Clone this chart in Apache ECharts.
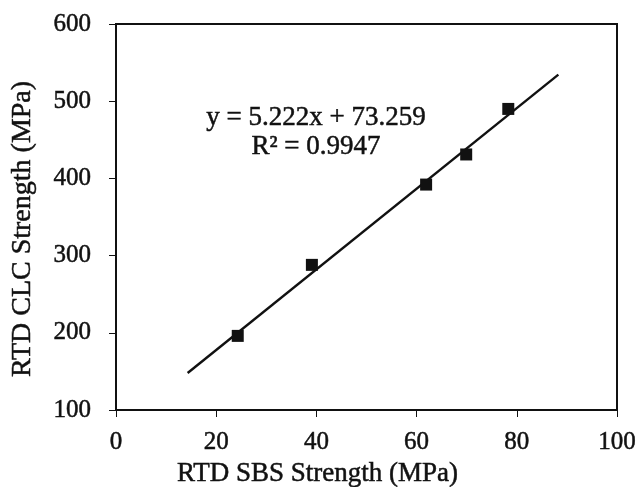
<!DOCTYPE html>
<html>
<head>
<meta charset="utf-8">
<script src="https://cdn.jsdelivr.net/npm/echarts@6/dist/echarts.min.js"></script>
<style>
  html, body { margin: 0; padding: 0; background: #fff; }
  #chart { width: 638px; height: 487px; }
</style>
</head>
<body>
<div id="chart"></div>
<script>
// Measured strengths: short-beam shear (x) vs curved-beam (y), MPa
const sbsStrength = [24.3, 39.1, 61.9, 69.9, 78.3];
const clcStrength = [196, 288, 392, 431, 490];

// Linear fit reported on the chart
const fitSlope = 5.222;
const fitIntercept = 73.259;
const fitR2 = 0.9947;
const fitRange = [14.3, 88.3];

const xTicks = [0, 20, 40, 60, 80, 100];
const yTicks = [100, 200, 300, 400, 500, 600];

const serif = 'Liberation Serif, Times New Roman, serif';
const ink = '#111111';
// a hairline outline in the text colour gives the glyphs a heavier print look
const heavy = { textBorderColor: ink, textBorderWidth: 0.5 };

const points = sbsStrength.map((x, i) => [x, clcStrength[i]]);
const fitLine = fitRange.map(x => [x, fitSlope * x + fitIntercept]);

const chart = echarts.init(document.getElementById('chart'), null, { renderer: 'canvas' });

chart.setOption({
  animation: false,
  backgroundColor: '#fff',
  grid: {
    left: 116, right: 21, top: 24, bottom: 77,
    outerBoundsMode: 'none', containLabel: false,
    show: true, borderColor: ink, borderWidth: 2, backgroundColor: 'transparent'
  },
  xAxis: {
    type: 'value',
    min: xTicks[0], max: xTicks[xTicks.length - 1], interval: 20,
    name: 'RTD SBS Strength (MPa)',
    nameLocation: 'middle', nameGap: 47,
    nameTextStyle: Object.assign({ fontFamily: serif, fontSize: 27, color: ink, padding: [0, 98, 0, 0] }, heavy),
    axisLine: { show: true, lineStyle: { color: ink, width: 2 } },
    axisTick: { show: true, inside: false, length: 7, lineStyle: { color: ink, width: 1 } },
    axisLabel: Object.assign({ margin: 20, fontFamily: serif, fontSize: 25, color: ink }, heavy),
    splitLine: { show: false }
  },
  yAxis: {
    type: 'value',
    min: yTicks[0], max: yTicks[yTicks.length - 1], interval: 100,
    name: 'RTD CLC Strength (MPa)',
    nameLocation: 'middle', nameGap: 79,
    nameTextStyle: Object.assign({ fontFamily: serif, fontSize: 28, color: ink, padding: [0, 24, 0, 0] }, heavy),
    axisLine: { show: true, lineStyle: { color: ink, width: 2 } },
    axisTick: { show: true, inside: false, length: 7, lineStyle: { color: ink, width: 1 } },
    axisLabel: Object.assign({ margin: 25, fontFamily: serif, fontSize: 25, color: ink }, heavy),
    splitLine: { show: false }
  },
  graphic: [
    {
      type: 'text', x: 316, y: 104,
      style: {
        text: 'y = ' + fitSlope.toFixed(3) + 'x + ' + fitIntercept.toFixed(3),
        fontFamily: serif, fontSize: 27, fill: ink,
        align: 'center', verticalAlign: 'top',
        stroke: ink, lineWidth: 0.5
      }
    },
    {
      type: 'text', x: 316, y: 133,
      style: {
        text: 'R\u00B2 = ' + fitR2.toFixed(4),
        fontFamily: serif, fontSize: 27, fill: ink,
        align: 'center', verticalAlign: 'top',
        stroke: ink, lineWidth: 0.5
      }
    }
  ],
  series: [
    {
      type: 'line',
      data: fitLine,
      symbol: 'none',
      lineStyle: { color: ink, width: 2.4 },
      z: 2
    },
    {
      type: 'scatter',
      data: points,
      symbol: 'rect',
      symbolSize: 12,
      itemStyle: { color: ink, opacity: 1 },
      z: 3
    }
  ]
});
</script>
</body>
</html>
